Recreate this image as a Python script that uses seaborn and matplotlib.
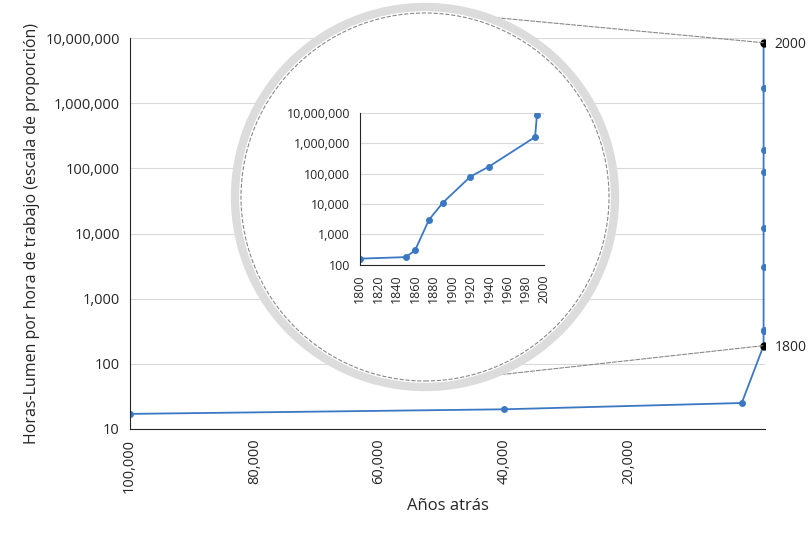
import matplotlib
matplotlib.use("Agg")
import matplotlib.pyplot as plt
import seaborn as sns
import pandas as pd
from matplotlib.patches import Ellipse, ConnectionPatch
from matplotlib.ticker import FuncFormatter

sns.set_style("white")
plt.rcParams['font.family'] = ['Open Sans', 'DejaVu Sans']

# main chart: years ago vs lumen-hours per hour of work
ancient_years_ago = [100000, 40000, 1800]
ancient_values = [17, 20, 25]
years = [1800, 1850, 1860, 1875, 1890, 1920, 1940, 1990, 1992]
values = [190, 320, 330, 3100, 12000, 87000, 190000, 1700000, 8500000]
inset_years = [1800, 1850, 1860, 1875, 1890, 1920, 1940, 1990, 1992]
inset_values = [160, 180, 300, 3000, 11000, 80000, 170000, 1600000, 8500000]

blue = '#3a78c3'
main_df = pd.DataFrame({
    'x': ancient_years_ago + [-(y - 1800) / 60 - 1700 for y in years],
    'y': ancient_values + values,
})
inset_df = pd.DataFrame({'x': inset_years, 'y': inset_values})
fmt = FuncFormatter(lambda v, p: f'{int(v):,}')

fig = plt.figure(figsize=(8.1, 5.45), dpi=100)
ax = fig.add_axes([0.16, 0.213, 0.785, 0.717])
sns.lineplot(data=main_df, x='x', y='y', ax=ax, color=blue, marker='o',
             markersize=5, markeredgewidth=0, linewidth=1.3)
ax.set_yscale('log')
ax.set_ylim(10, 1e7)
ax.set_xlim(100000, -2000)
ax.set_xticks([100000, 80000, 60000, 40000, 20000])
ax.xaxis.set_major_formatter(fmt)
ax.yaxis.set_major_formatter(fmt)
ax.tick_params(axis='x', rotation=90, labelsize=10.5)
ax.tick_params(axis='y', labelsize=10.5)
ax.yaxis.grid(True, color='#d9d9d9', linewidth=0.8)
ax.minorticks_off()
for s in ['top', 'right']:
    ax.spines[s].set_visible(False)
ax.set_xlabel('Años atrás', fontsize=12)
ax.set_ylabel('Horas-Lumen por hora de trabajo (escala de proporción)', fontsize=11.5)

p1800 = (main_df['x'].iloc[3], values[0])
p2000 = (main_df['x'].iloc[-1], values[-1])
ax.plot(*p1800, 'o', color='black', markersize=5, zorder=5)
ax.plot(*p2000, 'o', color='black', markersize=5, zorder=5)
ax.annotate('1800', p1800, xytext=(8, -4), textcoords='offset points', fontsize=10)
ax.annotate('2000', p2000, xytext=(8, -4), textcoords='offset points', fontsize=10)

# magnifier circle
cx, cy = 425 / 810, 1 - 197 / 545
fig.add_artist(Ellipse((cx, cy), 2 * 190 / 810, 2 * 190 / 545, transform=fig.transFigure,
                       facecolor='white', edgecolor='#dcdcdc', linewidth=6, zorder=3))
fig.add_artist(Ellipse((cx, cy), 2 * 184 / 810, 2 * 184 / 545, transform=fig.transFigure,
                       facecolor='none', edgecolor='#888888', linewidth=0.8,
                       linestyle='--', zorder=3))
for start, end in [((cx, 1 - 11 / 545), p2000), ((cx, 1 - 383 / 545), p1800)]:
    fig.add_artist(ConnectionPatch(xyA=start, coordsA='figure fraction', xyB=end,
                                   coordsB=ax.transData, color='#888888',
                                   linestyle='--', linewidth=0.8, zorder=2))

ins = fig.add_axes([0.444, 0.514, 0.228, 0.279], zorder=4)
sns.lineplot(data=inset_df, x='x', y='y', ax=ins, color=blue, marker='o',
             markersize=5, markeredgewidth=0, linewidth=1.3)
ins.set_yscale('log')
ins.set_ylim(100, 1e7)
ins.set_xlim(1800, 2000)
ins.set_xticks(range(1800, 2001, 20))
ins.yaxis.set_major_formatter(fmt)
ins.minorticks_off()
ins.tick_params(axis='x', rotation=90, labelsize=9)
ins.tick_params(axis='y', labelsize=9)
ins.yaxis.grid(True, color='#d9d9d9', linewidth=0.8)
for s in ['top', 'right']:
    ins.spines[s].set_visible(False)
ins.set_xlabel('')
ins.set_ylabel('')

fig.savefig('out.png', dpi=100)
